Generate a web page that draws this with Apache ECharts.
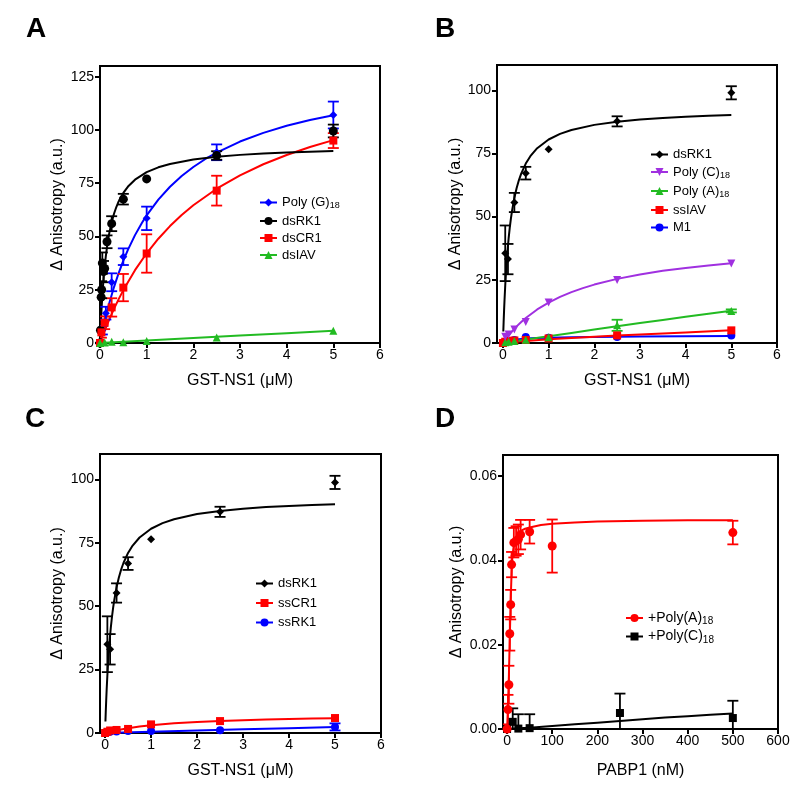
<!DOCTYPE html>
<html><head><meta charset="utf-8">
<script src="https://cdn.jsdelivr.net/npm/echarts@6/dist/echarts.min.js"></script>
<style>html,body{margin:0;padding:0;background:#fff}#c{width:800px;height:790px}</style>
</head><body><div id="c"></div>
<script>
// ---------------- tick labels ----------------
const xTicksGST = [0, 1, 2, 3, 4, 5, 6];
const yTicksA = [0, 25, 50, 75, 100, 125];
const yTicksBC = [0, 25, 50, 75, 100];
const xTicksD = [0, 100, 200, 300, 400, 500, 600];
const yTicksD = [0, 0.02, 0.04, 0.06];

// ---------------- Panel A ----------------
const aPolyG_x = [0, 0.05, 0.125, 0.25, 0.5, 1, 2.5, 5];
const aPolyG_y = [0, 6, 14, 28.5, 40.5, 58.5, 89.5, 107];
const aPolyG_e = [0, 2, 3, 4.2, 3.9, 5.5, 3.7, 6.3];
const aPolyG_fitX = [0, 0.025, 0.05, 0.1, 0.15, 0.2, 0.3, 0.4, 0.5, 0.6, 0.75, 0.9, 1, 1.25, 1.5, 1.75, 2, 2.25, 2.5, 3, 3.5, 4, 4.5, 5];
const aPolyG_fitY = [0, 2.67, 5.24, 10.08, 14.56, 18.73, 26.25, 32.84, 38.66, 43.85, 50.63, 56.46, 59.91, 67.31, 73.35, 78.37, 82.61, 86.24, 89.38, 94.55, 98.62, 101.92, 104.63, 106.91];

const aDsRK1_x = [0, 0.01, 0.025, 0.035, 0.05, 0.075, 0.1, 0.15, 0.25, 0.5, 1, 2.5, 5];
const aDsRK1_y = [0, 6, 21.5, 25, 37.5, 33.5, 35, 47.5, 56, 67.5, 77, 88, 99.5];
const aDsRK1_e = [0, 0, 0, 4, 5, 5, 0, 3, 3.5, 2.5, 0, 2, 3];
const aDsRK1_fitX = [0, 0.005, 0.01, 0.02, 0.03, 0.04, 0.05, 0.06, 0.08, 0.1, 0.125, 0.15, 0.175, 0.2, 0.25, 0.3, 0.35, 0.4, 0.5, 0.6, 0.75, 1, 1.25, 1.5, 2, 2.5, 3, 3.5, 4, 4.5, 5];
const aDsRK1_fitY = [0, 2.82, 5.47, 10.33, 14.68, 18.6, 22.14, 25.36, 31, 35.77, 40.79, 45, 48.58, 51.67, 56.71, 60.65, 63.82, 66.43, 70.45, 73.42, 76.65, 80.17, 82.45, 84.04, 86.11, 87.41, 88.29, 88.93, 89.42, 89.81, 90.12];

const aDsCR1_x = [0, 0.03, 0.1, 0.25, 0.5, 1, 2.5, 5];
const aDsCR1_y = [0, 5, 9.5, 16.7, 26, 42, 71.5, 95];
const aDsCR1_e = [0, 2.5, 3, 4.3, 6.4, 9, 7, 3.5];
const aDsCR1_fitX = [0, 0.05, 0.1, 0.2, 0.3, 0.4, 0.5, 0.75, 1, 1.25, 1.5, 1.75, 2, 2.5, 3, 3.5, 4, 4.5, 5];
const aDsCR1_fitY = [0, 2.96, 5.79, 11.12, 16.04, 20.59, 24.82, 34.18, 42.12, 48.94, 54.87, 60.06, 64.65, 72.4, 78.68, 83.88, 88.25, 91.97, 95.21];

const aDsIAV_x = [0, 0.1, 0.25, 0.5, 1, 2.5, 5];
const aDsIAV_y = [0, 0.2, 0.6, 0.4, 0.9, 2.6, 5.7];
const aDsIAV_fitX = [0, 1, 2, 3, 4, 5];
const aDsIAV_fitY = [0, 1.2, 2.35, 3.5, 4.6, 5.7];

// ---------------- Panel B ----------------
const bDsRK1_x = [0.05, 0.11, 0.25, 0.5, 1, 2.5, 5];
const bDsRK1_y = [35.5, 33.2, 55.6, 67.2, 76.7, 87.7, 99];
const bDsRK1_e = [11, 6, 3.8, 2.5, 0, 2, 2.6];
const bDsRK1_fitX = [0.008, 0.015, 0.025, 0.035, 0.05, 0.065, 0.08, 0.1, 0.125, 0.15, 0.175, 0.2, 0.25, 0.3, 0.35, 0.4, 0.5, 0.6, 0.75, 1, 1.25, 1.5, 2, 2.5, 3, 3.5, 4, 4.5, 5];
const bDsRK1_fitY = [4.56, 8.21, 12.92, 17.13, 22.68, 27.48, 31.66, 36.47, 41.52, 45.74, 49.32, 52.39, 57.41, 61.32, 64.46, 67.03, 70.99, 73.91, 77.07, 80.52, 82.74, 84.29, 86.31, 87.57, 88.43, 89.06, 89.53, 89.9, 90.2];

const bPolyC_x = [0.05, 0.125, 0.25, 0.5, 1, 2.5, 5];
const bPolyC_y = [2.5, 3.4, 5.3, 8.3, 16, 24.9, 31.5];
const bPolyC_fitX = [0, 0.05, 0.1, 0.2, 0.3, 0.4, 0.5, 0.75, 1, 1.25, 1.5, 1.75, 2, 2.5, 3, 3.5, 4, 4.5, 5];
const bPolyC_fitY = [0, 1.26, 2.45, 4.62, 6.57, 8.32, 9.9, 13.28, 16, 18.25, 20.13, 21.73, 23.11, 25.37, 27.13, 28.55, 29.71, 30.69, 31.52];

const bPolyA_x = [0.05, 0.125, 0.25, 0.5, 1, 2.5, 5];
const bPolyA_y = [0.3, 0.5, 0.8, 1.3, 2.3, 7, 12.7];
const bPolyA_e = [0, 0, 0, 0, 0, 2.2, 0.6];
const bPolyA_fitX = [0, 0.5, 1, 1.5, 2, 2.5, 3, 3.5, 4, 4.5, 5];
const bPolyA_fitY = [0, 1.35, 2.7, 4.0, 5.3, 6.6, 7.9, 9.1, 10.4, 11.6, 12.8];

const bSsIAV_x = [0, 0.05, 0.125, 0.25, 0.5, 1, 2.5, 5];
const bSsIAV_y = [0, 0.5, 0.8, 1, 1.2, 1.8, 3, 5];
const bSsIAV_fitX = [0, 0.25, 0.5, 1, 1.5, 2, 2.5, 3, 4, 5];
const bSsIAV_fitY = [0, 0.45, 0.8, 1.5, 2.0, 2.5, 3.0, 3.4, 4.2, 5.0];

const bM1_x = [0, 0.05, 0.125, 0.25, 0.5, 1, 2.5, 5];
const bM1_y = [0, 0.5, 0.8, 1.2, 2.4, 2.1, 2.4, 3.0];
const bM1_fitX = [0, 0.1, 0.25, 0.5, 0.75, 1, 1.5, 2, 2.5, 3, 4, 5];
const bM1_fitY = [0, 0.6, 1.3, 1.8, 2.0, 2.1, 2.3, 2.4, 2.5, 2.6, 2.7, 2.8];

// ---------------- Panel C ----------------
const cDsRK1_x = [0.05, 0.11, 0.25, 0.5, 1, 2.5, 5];
const cDsRK1_y = [35, 33, 55.2, 66.8, 76.4, 87.2, 98.8];
const cDsRK1_e = [11, 6, 3.8, 2.5, 0, 2, 2.6];
const cDsRK1_fitX = [0.008, 0.015, 0.025, 0.035, 0.05, 0.065, 0.08, 0.1, 0.125, 0.15, 0.175, 0.2, 0.25, 0.3, 0.35, 0.4, 0.5, 0.6, 0.75, 1, 1.25, 1.5, 2, 2.5, 3, 3.5, 4, 4.5, 5];
const cDsRK1_fitY = [4.56, 8.21, 12.92, 17.13, 22.68, 27.48, 31.66, 36.47, 41.52, 45.74, 49.32, 52.39, 57.41, 61.32, 64.46, 67.03, 70.99, 73.91, 77.07, 80.52, 82.74, 84.29, 86.31, 87.57, 88.43, 89.06, 89.53, 89.9, 90.2];

const cSsCR1_x = [0, 0.05, 0.11, 0.25, 0.5, 1, 2.5, 5];
const cSsCR1_y = [0, 0.5, 1, 1.2, 1.6, 3.4, 4.7, 5.9];
const cSsCR1_fitX = [0, 0.1, 0.25, 0.5, 0.75, 1, 1.5, 2, 2.5, 3, 3.5, 4, 4.5, 5];
const cSsCR1_fitY = [0, 0.48, 1.09, 1.9, 2.53, 3.04, 3.8, 4.34, 4.75, 5.07, 5.32, 5.53, 5.7, 5.85];

const cSsRK1_x = [0, 0.05, 0.11, 0.25, 0.5, 1, 2.5, 5];
const cSsRK1_y = [0, 0.3, 0.5, 0.6, 0.8, 0.8, 1.1, 2.4];
const cSsRK1_e = [0, 0, 0, 0, 0, 0, 0, 1.4];
const cSsRK1_fitX = [0, 1, 2, 3, 4, 5];
const cSsRK1_fitY = [0, 0.5, 1.0, 1.45, 1.9, 2.4];

// ---------------- Panel D ----------------
const dPolyA_x = [0, 2, 4, 6, 8, 10, 15, 20, 25, 30, 50, 100, 500];
const dPolyA_y = [0, 0.0046, 0.0105, 0.0226, 0.0295, 0.039, 0.0442, 0.0446, 0.045, 0.0461, 0.0468, 0.0434, 0.0466];
const dPolyA_e = [0, 0.0035, 0.0045, 0.004, 0.0035, 0.003, 0.0035, 0.0035, 0.0035, 0.0035, 0.0028, 0.0063, 0.0028];
const dPolyA_fitX = [0, 1, 2, 3, 4, 5, 6, 7, 8, 9, 10, 11, 12, 13, 15, 17.5, 20, 25, 30, 40, 50, 75, 100, 150, 200, 300, 400, 500];
const dPolyA_fitY = [0, 0.0025, 0.0055, 0.009, 0.0125, 0.017, 0.0215, 0.026, 0.03, 0.0338, 0.037, 0.0395, 0.041, 0.042, 0.0435, 0.0447, 0.0455, 0.0465, 0.047, 0.0475, 0.0478, 0.0484, 0.0487, 0.049, 0.0492, 0.0494, 0.0495, 0.0495];

const dPolyC_x = [0, 12.5, 25, 50, 250, 500];
const dPolyC_y = [0, 0.0017, 0.0001, 0.0002, 0.0038, 0.0026];
const dPolyC_e = [0, 0.0032, 0.0034, 0.0033, 0.0046, 0.0041];
const dPolyC_fitX = [0, 25, 50, 100, 150, 200, 250, 300, 350, 400, 450, 500];
const dPolyC_fitY = [0, 0.00015, 0.0003, 0.0007, 0.0011, 0.0015, 0.0019, 0.0023, 0.0027, 0.003, 0.0034, 0.0037];

const dBase_x = [0, 600];
const dBase_y = [0, 0];

// ---------------- legend labels ----------------
const legendA = ['Poly (G){s|18}', 'dsRK1', 'dsCR1', 'dsIAV'];
const legendB = ['dsRK1', 'Poly (C){s|18}', 'Poly (A){s|18}', 'ssIAV', 'M1'];
const legendC = ['dsRK1', 'ssCR1', 'ssRK1'];
const legendD = ['+Poly(A){s|18}', '+Poly(C){s|18}'];

// ---------------- styling ----------------
const FONT = 'Liberation Sans, Arial, Helvetica, sans-serif';
const BLUE = '#0000ff', BLACK = '#000000', RED = '#ff0000', GREEN = '#22bb22', PURPLE = '#a030e0';
const DOWN_TRI = 'path://M0,0L10,0L5,9Z';

const zip = (xs, ys) => xs.map((x, i) => [x, ys[i]]);
const zip3 = (xs, ys, es) => xs.map((x, i) => [x, ys[i], es[i]]);

function pts(name, g, xs, ys, color, symbol, size) {
  return { type: 'line', name, xAxisIndex: g, yAxisIndex: g, data: zip(xs, ys),
    symbol, symbolSize: size, showSymbol: true, lineStyle: { width: 0 },
    itemStyle: { color, borderWidth: 0 }, z: 5, animation: false, clip: false,
    emphasis: { disabled: true } };
}
function fit(g, xs, ys, color) {
  return { type: 'line', xAxisIndex: g, yAxisIndex: g, data: zip(xs, ys), symbol: 'none',
    smooth: false, lineStyle: { width: 2, color, join: 'round' }, z: 3, silent: true, animation: false };
}
function err(g, xs, ys, es, color) {
  return { type: 'custom', xAxisIndex: g, yAxisIndex: g, data: zip3(xs, ys, es), z: 4,
    clip: true, silent: true, animation: false, encode: { x: 0, y: 1 },
    renderItem: function (params, api) {
      const x = api.value(0), y = api.value(1), e = api.value(2);
      if (!e) return null;
      const t = api.coord([x, y + e]), b = api.coord([x, y - e]);
      const hw = 5.5, st = { stroke: color, lineWidth: 1.8 };
      return { type: 'group', children: [
        { type: 'line', shape: { x1: t[0], y1: t[1], x2: b[0], y2: b[1] }, style: st },
        { type: 'line', shape: { x1: t[0] - hw, y1: t[1], x2: t[0] + hw, y2: t[1] }, style: st },
        { type: 'line', shape: { x1: b[0] - hw, y1: b[1], x2: b[0] + hw, y2: b[1] }, style: st }
      ] };
    } };
}

const grids = [
  { left: 100, top: 66, width: 280, height: 277 },
  { left: 497, top: 65, width: 280, height: 278 },
  { left: 100, top: 454, width: 281, height: 279 },
  { left: 503, top: 455, width: 275, height: 274 }
].map(g => Object.assign(g, { show: true, borderColor: '#000', borderWidth: 2, backgroundColor: 'transparent' }));

function xAx(g, min, max, ticks, name, gap) {
  return { type: 'value', gridIndex: g, min, max, name, nameLocation: 'middle', nameGap: gap,
    nameTextStyle: { fontSize: 16, color: '#000', fontFamily: FONT },
    axisLine: { show: true, onZero: false, lineStyle: { color: '#000', width: 2 } },
    axisTick: { show: true, length: 5, lineStyle: { color: '#000', width: 2 }, customValues: ticks },
    axisLabel: { fontSize: 14, color: '#000', fontFamily: FONT, margin: 5, customValues: ticks },
    splitLine: { show: false } };
}
function yAx(g, min, max, ticks, gap, fmt) {
  return { type: 'value', gridIndex: g, min, max, name: 'Δ Anisotropy (a.u.)', nameLocation: 'middle', nameGap: gap,
    nameTextStyle: { fontSize: 16, color: '#000', fontFamily: FONT },
    axisLine: { show: true, onZero: false, lineStyle: { color: '#000', width: 2 } },
    axisTick: { show: true, length: 5, lineStyle: { color: '#000', width: 2 }, customValues: ticks },
    axisLabel: { fontSize: 14, color: '#000', fontFamily: FONT, margin: 6, customValues: ticks, formatter: fmt },
    splitLine: { show: false } };
}

const legendMap = {};
function mkLegend(prefixNames, labels, left, top, gap, fs) {
  prefixNames.forEach((n, i) => legendMap[n] = labels[i]);
  return { data: prefixNames, left, top, orient: 'vertical', itemGap: gap, itemWidth: 17, itemHeight: 10,
    padding: 0, selectedMode: false,
    lineStyle: { width: 2 },
    formatter: n => legendMap[n],
    textStyle: { fontSize: fs, color: '#000', fontFamily: FONT, padding: [0, 0, 0, 0],
      rich: { s: { fontSize: Math.round(fs * 0.7), fontFamily: FONT, color: '#000', padding: [7, 0, 0, 0] } } } };
}

const series = [
  // A
  fit(0, aDsIAV_fitX, aDsIAV_fitY, GREEN),
  fit(0, aDsCR1_fitX, aDsCR1_fitY, RED),
  fit(0, aPolyG_fitX, aPolyG_fitY, BLUE),
  fit(0, aDsRK1_fitX, aDsRK1_fitY, BLACK),
  err(0, aDsCR1_x, aDsCR1_y, aDsCR1_e, RED),
  err(0, aPolyG_x, aPolyG_y, aPolyG_e, BLUE),
  err(0, aDsRK1_x, aDsRK1_y, aDsRK1_e, BLACK),
  pts('A_polyG', 0, aPolyG_x, aPolyG_y, BLUE, 'diamond', 8),
  pts('A_dsRK1', 0, aDsRK1_x, aDsRK1_y, BLACK, 'circle', 9),
  pts('A_dsCR1', 0, aDsCR1_x, aDsCR1_y, RED, 'rect', 8),
  pts('A_dsIAV', 0, aDsIAV_x, aDsIAV_y, GREEN, 'triangle', 8),
  // B
  fit(1, bM1_fitX, bM1_fitY, BLUE),
  fit(1, bSsIAV_fitX, bSsIAV_fitY, RED),
  fit(1, bPolyA_fitX, bPolyA_fitY, GREEN),
  fit(1, bPolyC_fitX, bPolyC_fitY, PURPLE),
  fit(1, bDsRK1_fitX, bDsRK1_fitY, BLACK),
  err(1, bPolyA_x, bPolyA_y, bPolyA_e, GREEN),
  err(1, bDsRK1_x, bDsRK1_y, bDsRK1_e, BLACK),
  pts('B_M1', 1, bM1_x, bM1_y, BLUE, 'circle', 8),
  pts('B_ssIAV', 1, bSsIAV_x, bSsIAV_y, RED, 'rect', 8),
  pts('B_polyA', 1, bPolyA_x, bPolyA_y, GREEN, 'triangle', 8),
  pts('B_polyC', 1, bPolyC_x, bPolyC_y, PURPLE, DOWN_TRI, 8),
  pts('B_dsRK1', 1, bDsRK1_x, bDsRK1_y, BLACK, 'diamond', 8),
  // C
  fit(2, cSsRK1_fitX, cSsRK1_fitY, BLUE),
  fit(2, cSsCR1_fitX, cSsCR1_fitY, RED),
  fit(2, cDsRK1_fitX, cDsRK1_fitY, BLACK),
  err(2, cSsRK1_x, cSsRK1_y, cSsRK1_e, BLUE),
  err(2, cDsRK1_x, cDsRK1_y, cDsRK1_e, BLACK),
  pts('C_ssRK1', 2, cSsRK1_x, cSsRK1_y, BLUE, 'circle', 8),
  pts('C_ssCR1', 2, cSsCR1_x, cSsCR1_y, RED, 'rect', 8),
  pts('C_dsRK1', 2, cDsRK1_x, cDsRK1_y, BLACK, 'diamond', 8),
  // D
  { type: 'line', xAxisIndex: 3, yAxisIndex: 3, data: zip(dBase_x, dBase_y), symbol: 'none',
    lineStyle: { width: 1.5, color: '#000', type: [2, 2] }, z: 2, silent: true, animation: false },
  fit(3, dPolyC_fitX, dPolyC_fitY, BLACK),
  fit(3, dPolyA_fitX, dPolyA_fitY, RED),
  err(3, dPolyC_x, dPolyC_y, dPolyC_e, BLACK),
  err(3, dPolyA_x, dPolyA_y, dPolyA_e, RED),
  pts('D_polyC', 3, dPolyC_x, dPolyC_y, BLACK, 'rect', 8),
  pts('D_polyA', 3, dPolyA_x, dPolyA_y, RED, 'circle', 9)
];

const letter = (t, left, top) => ({ type: 'text', left, top,
  style: { text: t, fill: '#000', font: 'bold 28px ' + FONT } });

const option = {
  animation: false,
  backgroundColor: '#fff',
  textStyle: { fontFamily: FONT },
  grid: grids,
  xAxis: [
    xAx(0, 0, 6, xTicksGST, 'GST-NS1 (μM)', 30),
    xAx(1, -0.13, 6, xTicksGST, 'GST-NS1 (μM)', 30),
    xAx(2, -0.11, 6, xTicksGST, 'GST-NS1 (μM)', 30),
    xAx(3, -9, 600, xTicksD, 'PABP1 (nM)', 34)
  ],
  yAxis: [
    yAx(0, 0, 130, yTicksA, 34),
    yAx(1, 0, 110, yTicksBC, 32),
    yAx(2, 0, 110, yTicksBC, 34),
    yAx(3, 0, 0.065, yTicksD, 38, v => v.toFixed(2))
  ],
  legend: [
    mkLegend(['A_polyG', 'A_dsRK1', 'A_dsCR1', 'A_dsIAV'], legendA, 259, 196, 4, 13),
    mkLegend(['B_dsRK1', 'B_polyC', 'B_polyA', 'B_ssIAV', 'B_M1'], legendB, 650, 148, 4.5, 13),
    mkLegend(['C_dsRK1', 'C_ssCR1', 'C_ssRK1'], legendC, 255, 577, 6.5, 13),
    mkLegend(['D_polyA', 'D_polyC'], legendD, 625, 611, 3, 14)
  ],
  graphic: [
    letter('A', 26, 15),
    letter('B', 435, 15),
    letter('C', 25, 405),
    letter('D', 435, 405)
  ],
  series
};

const chart = echarts.init(document.getElementById('c'), null, { renderer: 'canvas' });
chart.setOption(option);
</script></body></html>
